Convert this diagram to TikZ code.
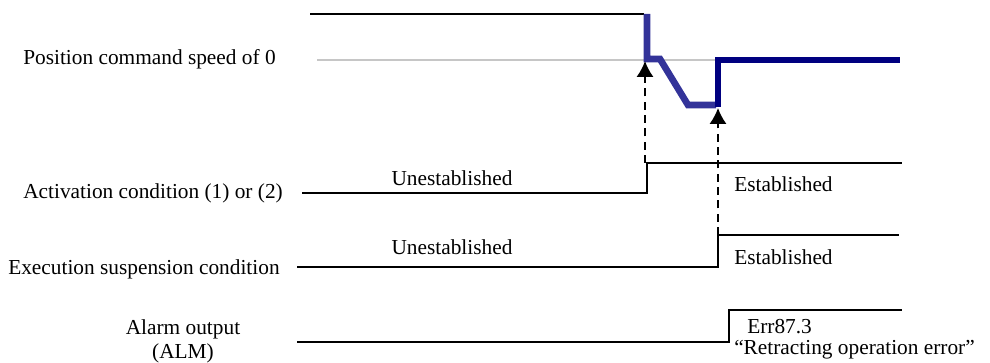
\documentclass[tikz,border=0pt]{standalone}
\usepackage{fontspec}
\setmainfont{Liberation Serif}
\usetikzlibrary{arrows.meta}
\definecolor{cmdblue}{HTML}{333399}
\definecolor{cmdnavy}{HTML}{000080}
\tikzset{
  sig/.style={black, line width=1.4pt},
  cmd/.style={line width=5pt},
  lbl/.style={inner sep=0pt, font=\fontsize{16}{18}\selectfont},
  trig/.style={line width=1.4pt, dash pattern=on 6pt off 4pt, -{Latex[length=12pt,width=13pt]}}
}
\begin{document}
\begin{tikzpicture}[x=0.75pt, y=-0.75pt]
  \useasboundingbox (0,0) rectangle (990,363);

  % Libelles a gauche
  \node[lbl, anchor=west] (lpos) at (23,59) {Position command speed of 0};
  \node[lbl, anchor=west] (lact) at (23,193) {Activation condition (1) or (2)};
  \node[lbl, anchor=west] (lexe) at (8,269) {Execution suspension condition};
  \node[lbl, align=center] (lalm) at (183,341) {Alarm output\\(ALM)};

  % Commande de position
  \coordinate (p0) at (310,14);
  \coordinate (p1) at (644,14);
  \draw[sig] (p0) -- (p1);
  \draw[gray!45, line width=1.2pt] (317,60) -- (716,60);
  \draw[cmdblue, cmd] (647,14) -- (647,59) -- (660,59) -- (688,105) -- (716,105);
  \draw[cmdnavy, cmd] (718,107.5) -- (718,60) -- (900,60);

  % Condition d'activation
  \coordinate (a0) at (302,193);
  \coordinate (a1) at (647,193);
  \coordinate (a2) at (647,163);
  \coordinate (a3) at (902,163);
  \draw[sig] (a0) -- (a1) -- (a2) -- (a3);
  \node[lbl] (uact) at (452,178) {Unestablished};
  \node[lbl, anchor=west] (eact) at (734,184) {Established};

  % Condition de suspension
  \coordinate (e0) at (297,267);
  \coordinate (e1) at (718,267);
  \coordinate (e2) at (718,235);
  \coordinate (e3) at (899,235);
  \draw[sig] (e0) -- (e1) -- (e2) -- (e3);
  \node[lbl] (uexe) at (452,247) {Unestablished};
  \node[lbl, anchor=west] (eexe) at (734,257) {Established};

  % Sortie alarme
  \coordinate (m0) at (297,342);
  \coordinate (m1) at (729,342);
  \coordinate (m2) at (729,310);
  \coordinate (m3) at (902,310);
  \draw[sig] (m0) -- (m1) -- (m2) -- (m3);
  \node[lbl, anchor=west] (err) at (747,327) {Err87.3};
  \node[lbl, anchor=west] (ret) at (734,350) {``Retracting operation error''};

  % Declenchements
  \coordinate (t1) at (645,61);
  \coordinate (t2) at (718,108);
  \draw[trig] (645,163) -- (t1);
  \draw[trig] (e2) -- (t2);
\end{tikzpicture}
\end{document}
